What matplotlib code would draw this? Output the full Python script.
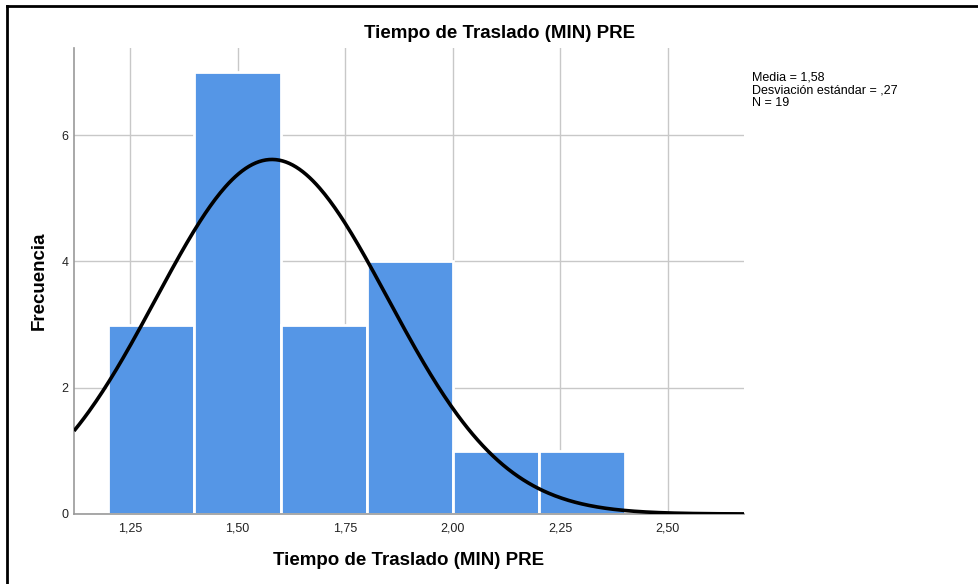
"""
Histogram of transfer time (PRE) with fitted normal curve, SPSS style.
"""
import numpy as np
import matplotlib
matplotlib.use("Agg")
import matplotlib.pyplot as plt
from matplotlib.lines import Line2D

plt.rcParams["font.family"] = ["Liberation Sans", "DejaVu Sans"]

# ---------- Data ----------
bin_edges = [1.20, 1.40, 1.60, 1.80, 2.00, 2.20, 2.40]
counts = [3, 7, 3, 4, 1, 1]
media = 1.58
desv = 0.27
n = 19
xticks = [1.25, 1.50, 1.75, 2.00, 2.25, 2.50]
xtick_labels = ["1,25", "1,50", "1,75", "2,00", "2,25", "2,50"]
yticks = [0, 2, 4, 6]
stats_text = "Media = 1,58\nDesviación estándar = ,27\nN = 19"
title = "Tiempo de Traslado (MIN) PRE"

# ---------- Figure ----------
fig = plt.figure(figsize=(9.79, 5.84), dpi=100)
W, H = 979, 584
ax = fig.add_axes([74 / W, 1 - 514 / H, (744 - 74) / W, (514 - 48) / H])

grid_col = "#c8c8c8"
ax.set_axisbelow(True)
ax.grid(True, color=grid_col, linewidth=1.0)

width = bin_edges[1] - bin_edges[0]
ax.bar(bin_edges[:-1], counts, width=width, align="edge",
       color="#5596e6", edgecolor="white", linewidth=2.0, zorder=2)

xs = np.linspace(1.12, 2.68, 400)
ys = n * width / (desv * np.sqrt(2 * np.pi)) * np.exp(-0.5 * ((xs - media) / desv) ** 2)
ax.plot(xs, ys, color="black", linewidth=2.6, zorder=3, solid_capstyle="butt")

ax.set_xlim(1.12, 2.677)
ax.set_ylim(0, 7.38)
ax.set_xticks(xticks)
ax.set_xticklabels(xtick_labels)
ax.set_yticks(yticks)
ax.tick_params(axis="both", length=0, labelsize=9, colors="#222222", pad=6)
ax.tick_params(axis="y", pad=4)

for side in ["top", "right"]:
    ax.spines[side].set_visible(False)
for side in ["left", "bottom"]:
    ax.spines[side].set_color("#999999")
    ax.spines[side].set_linewidth(1.2)

ax.set_xlabel(title, fontsize=13.5, fontweight="bold", labelpad=13)
ax.set_ylabel("Frecuencia", fontsize=13.5, fontweight="bold", labelpad=10)

fig.text(500 / W, 1 - 34 / H, title, ha="center", va="center",
         fontsize=13.5, fontweight="bold")
fig.text(752 / W, 1 - 72 / H, stats_text, ha="left", va="top",
         fontsize=9, linespacing=1.05)

# outer frame (only left and top visible in the crop)
fig.add_artist(Line2D([7 / W, 7 / W], [0, 1 - 6 / H], transform=fig.transFigure,
                      color="black", linewidth=2))
fig.add_artist(Line2D([7 / W, 1], [1 - 6 / H, 1 - 6 / H], transform=fig.transFigure,
                      color="black", linewidth=2))

fig.savefig("out.png", dpi=100)
